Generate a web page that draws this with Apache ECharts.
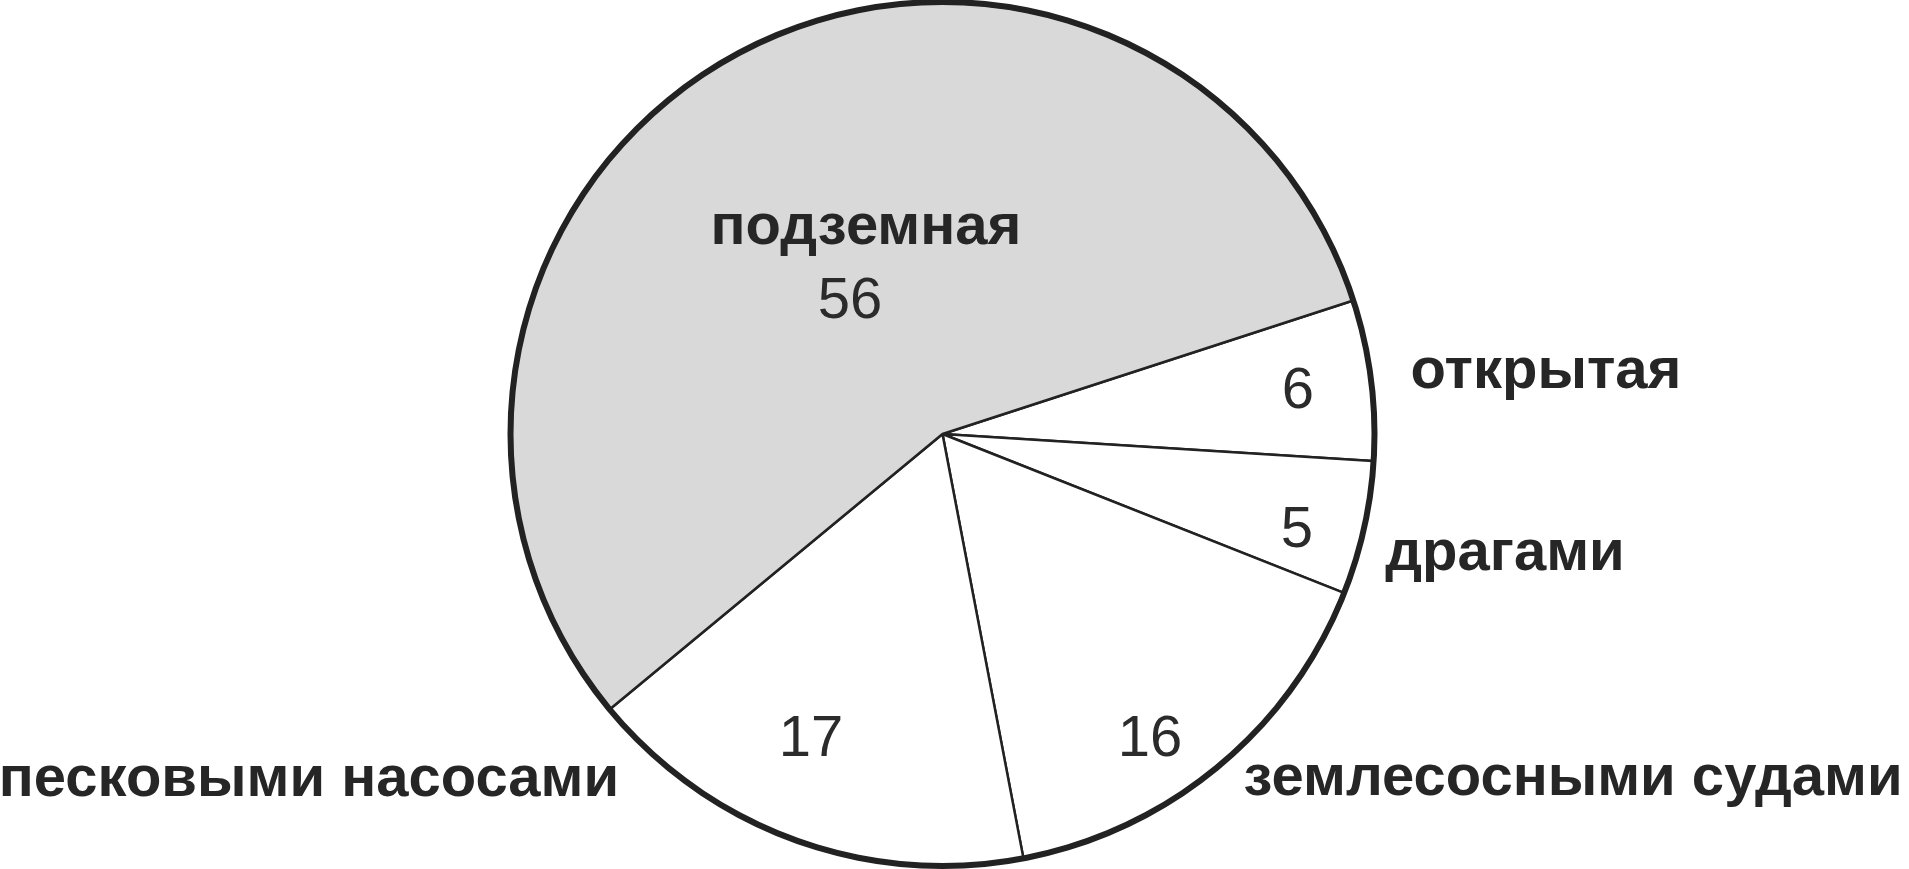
<!DOCTYPE html>
<html>
<head>
<meta charset="utf-8">
<title>Добыча</title>
<script src="https://cdn.jsdelivr.net/npm/echarts@6/dist/echarts.min.js"></script>
<style>
  html, body { margin: 0; padding: 0; background: #ffffff; }
  #chart { width: 1909px; height: 869px; }
</style>
</head>
<body>
<div id="chart"></div>
<script>
// Способы добычи, %
const categories = ['открытая', 'драгами', 'землесосными судами', 'песковыми насосами', 'подземная'];
const shares = [6, 5, 16, 17, 56];
const fills = ['#ffffff', '#ffffff', '#ffffff', '#ffffff', '#d9d9d9'];

// Label anchor points (centre of text), px
const valueLabelPos = [[1298, 392], [1297, 531], [1150, 740], [811, 740], [850, 302]];
const nameLabelPos = [[1546, 372], [1505, 554], [1573, 779], [309, 780], [866, 228]];

const CENTER = [942.5, 434];
const R = 432;
const START = 18;

const sliceData = categories.map((name, i) => ({
  name: name,
  value: shares[i],
  itemStyle: { color: fills[i] }
}));
const total = shares.reduce((a, b) => a + b, 0);

const chart = echarts.init(document.getElementById('chart'), null, { renderer: 'canvas' });

chart.setOption({
  backgroundColor: '#ffffff',
  animation: false,
  series: [
    {
      // slices with thin radial borders and value labels
      type: 'pie',
      center: CENTER,
      radius: [0, R - 1],
      startAngle: START,
      clockwise: true,
      silent: true,
      avoidLabelOverlap: false,
      itemStyle: { borderColor: '#222222', borderWidth: 2.5 },
      label: {
        show: true,
        position: 'inside',
        formatter: '{c}',
        fontFamily: 'Liberation Sans, Arial, sans-serif',
        fontSize: 58,
        fontWeight: 'normal',
        color: '#2b2b2b'
      },
      labelLine: { show: false },
      labelLayout: function (p) {
        const pos = valueLabelPos[p.dataIndex];
        return { x: pos[0], y: pos[1], align: 'center', verticalAlign: 'middle' };
      },
      data: sliceData
    },
    {
      // category names
      type: 'pie',
      center: CENTER,
      radius: [0, R - 1],
      startAngle: START,
      clockwise: true,
      silent: true,
      avoidLabelOverlap: false,
      itemStyle: { color: 'rgba(0,0,0,0)', borderWidth: 0 },
      label: {
        show: true,
        position: 'inside',
        formatter: '{b}',
        fontFamily: '"Liberation Sans", Arial, sans-serif',
        fontSize: 58,
        fontWeight: 'bold',
        color: '#262626'
      },
      labelLine: { show: false },
      labelLayout: function (p) {
        const pos = nameLabelPos[p.dataIndex];
        return { x: pos[0], y: pos[1], align: 'center', verticalAlign: 'middle' };
      },
      data: categories.map((name, i) => ({ name: name, value: shares[i] }))
    },
    {
      // heavy outer rim
      type: 'pie',
      center: CENTER,
      radius: [R - 3, R + 3],
      silent: true,
      label: { show: false },
      labelLine: { show: false },
      itemStyle: { color: '#222222', borderWidth: 0 },
      data: [{ name: '', value: total }]
    }
  ]
});
</script>
</body>
</html>
